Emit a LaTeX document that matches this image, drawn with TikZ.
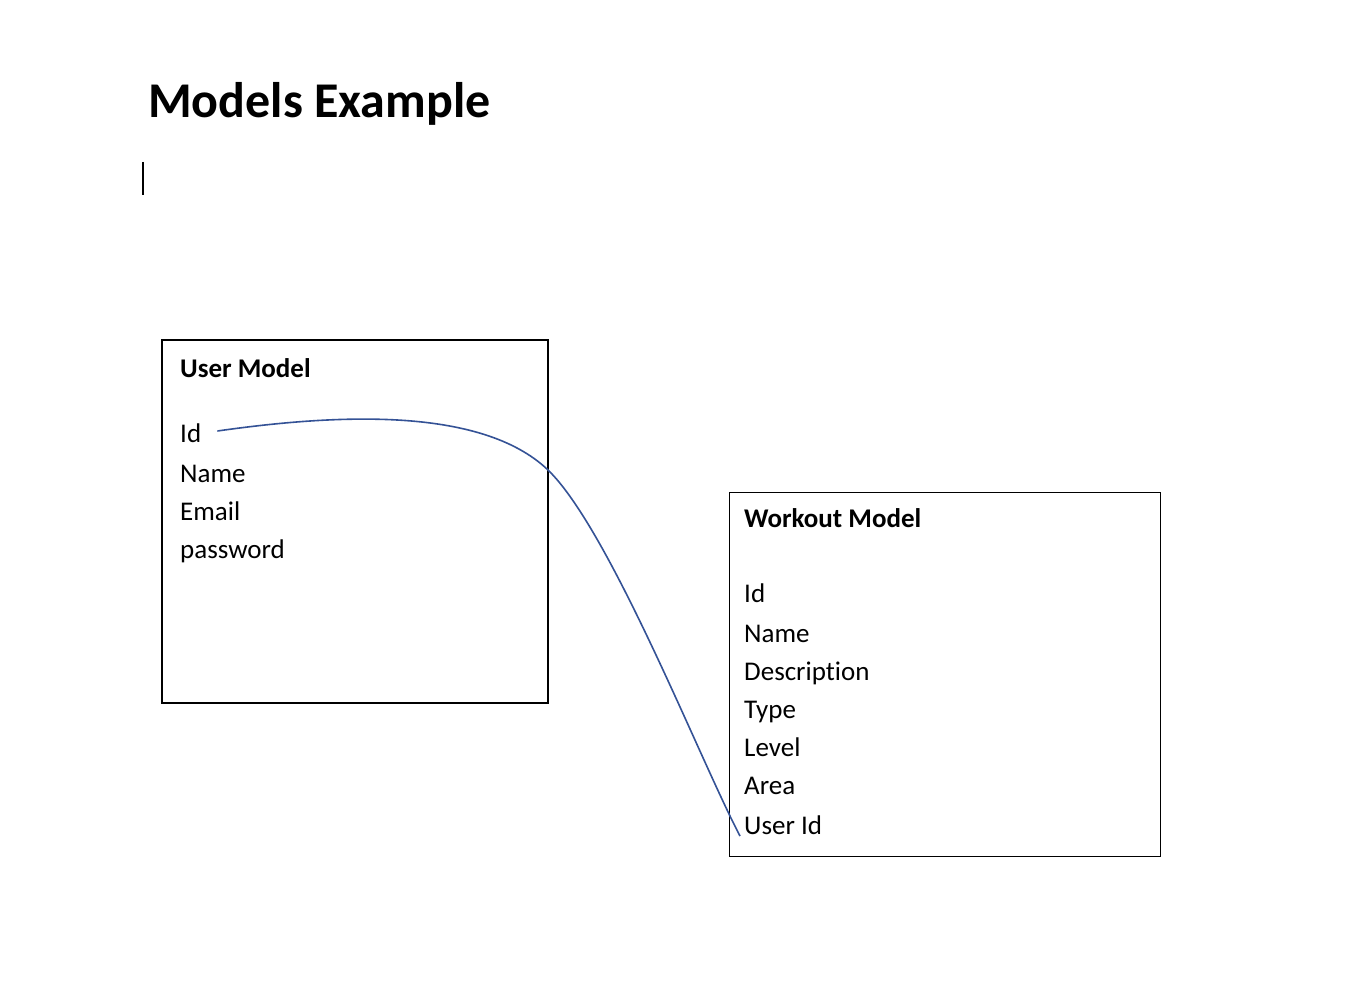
\documentclass[tikz,border=0pt]{standalone}
\usepackage{fontspec}
\setmainfont{Carlito}[Ligatures={NoCommon}]
\definecolor{linkblue}{RGB}{52,82,150}
\begin{document}
\begin{tikzpicture}[x=1pt,y=-1pt,
  txt/.style={anchor=base west,inner sep=0pt,font=\fontsize{27}{30}\selectfont},
  head/.style={txt,font=\fontsize{27}{30}\selectfont\bfseries},
  modelbox/.style={draw=black,rectangle,inner sep=0pt}]
\useasboundingbox (0,0) rectangle (1346,1000);
\fill[white] (0,0) rectangle (1346,1000);
% title
\node[anchor=base west,inner sep=0pt,font=\fontsize{50}{56}\selectfont\bfseries] (title) at (148,118) {Models Example};
\draw[line width=2pt] (143,162) -- (143,195);
% user model box
\node[modelbox,line width=1.8pt,minimum width=386pt,minimum height=363pt] (userbox) at (355,521.5) {};
\node[head] (uhead) at (180,377) {User Model};
\node[txt] (uid) at (180,442) {Id};
\node[txt] (uname) at (180,482) {Name};
\node[txt] (uemail) at (180,520) {Email};
\node[txt] (upass) at (180,558) {password};
% workout model box
\node[modelbox,line width=0.9pt,minimum width=431pt,minimum height=364pt] (wbox) at (944.5,674) {};
\node[head] (whead) at (744,527) {Workout Model};
\node[txt] (wid) at (744,602) {Id};
\node[txt] (wname) at (744,642) {Name};
\node[txt] (wdesc) at (744,680) {Description};
\node[txt] (wtype) at (744,718) {Type};
\node[txt] (wlevel) at (744,756) {Level};
\node[txt] (warea) at (744,794) {Area};
\node[txt] (wuser) at (744,834) {User Id};
% connector
\coordinate (cs) at ([xshift=16pt,yshift=11pt]uid.base east);
\coordinate (ce) at ([xshift=-4pt,yshift=-2pt]wuser.base west);
\draw[linkblue,line width=1.6pt] (cs) .. controls (330,415) and (480,405) .. (548,470)
  .. controls (610,530) and (700,760) .. (ce);
\end{tikzpicture}
\end{document}
